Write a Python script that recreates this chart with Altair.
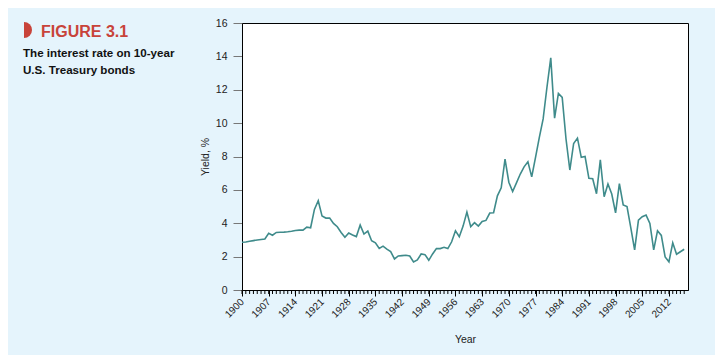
import math
import altair as alt
import pandas as pd

# ---- data ----
years = list(range(1900, 2017))
yields = [
    2.86, 2.88, 2.92, 2.96, 3.00, 3.03, 3.06, 3.40, 3.28, 3.45,   # 1900-1909
    3.46, 3.47, 3.49, 3.52, 3.57, 3.59, 3.59, 3.77, 3.73, 4.83,   # 1910-1919
    5.35, 4.43, 4.31, 4.31, 3.99, 3.79, 3.45, 3.16, 3.42, 3.30,   # 1920-1929
    3.20, 3.89, 3.35, 3.53, 2.95, 2.83, 2.49, 2.63, 2.45, 2.30,   # 1930-1939
    1.86, 2.04, 2.06, 2.08, 2.04, 1.68, 1.80, 2.16, 2.12, 1.78,   # 1940-1949
    2.16, 2.48, 2.48, 2.56, 2.48, 2.89, 3.55, 3.19, 3.83, 4.67,   # 1950-1959
    3.80, 4.04, 3.83, 4.11, 4.17, 4.61, 4.63, 5.64, 6.12, 7.84,   # 1960-1969
    6.46, 5.90, 6.42, 6.95, 7.38, 7.68, 6.78, 7.95, 9.15, 10.25,  # 1970-1979
    12.15, 13.91, 10.30, 11.78, 11.54, 9.05, 7.19, 8.78, 9.10, 7.95,  # 1980-1989
    8.00, 6.69, 6.67, 5.77, 7.80, 5.59, 6.35, 5.75, 4.62, 6.38,   # 1990-1999
    5.10, 5.00, 3.72, 2.40, 4.19, 4.39, 4.49, 3.99, 2.40, 3.55,   # 2000-2009
    3.27, 1.98, 1.69, 2.83, 2.14, 2.29, 2.44,                     # 2010-2016
]
major_ticks = list(range(1900, 2013, 7))
minor_ticks = list(range(1900, 2017))
y_ticks = list(range(0, 17, 2))

title_text = "FIGURE 3.1"
subtitle_lines = ["The interest rate on 10-year", "U.S. Treasury bonds"]

W, H = 446, 267
BG = "#E5F4FC"
LINE = "#3F8B8B"
RED = "#C8433A"
FONT = "Liberation Sans"

df = pd.DataFrame({"Year": years, "Yield": yields})

x_scale = alt.Scale(domain=[1900, 2017], nice=False, zero=False)
y_scale = alt.Scale(domain=[0, 16], nice=False)

x_axis = alt.Axis(
    values=major_ticks, format="d", labelAngle=-45, labelAlign="right",
    labelBaseline="middle", tickSize=6, tickColor="black", domainColor="black",
    labelFontSize=10, labelColor="#222222", labelPadding=4, grid=False,
    labelOverlap=False, labelFlush=False, labelBound=False,
    title="Year", titleFontSize=10.5, titleFontWeight="normal", titleColor="#222222",
    titleY=52, titleBaseline="alphabetic",
)
y_axis = alt.Axis(
    values=y_ticks, tickSize=9, tickColor="#777777", domainColor="black",
    labelFontSize=10.5, labelColor="#222222", labelPadding=6, grid=False,
    labelOverlap=False, labelFlush=False,
    title="Yield, %", titleFontSize=10.5, titleFontWeight="normal",
    titleColor="#222222", titleX=-34, titleBaseline="alphabetic",
)

line = alt.Chart(df).mark_line(color=LINE, strokeWidth=1.6).encode(
    x=alt.X("Year:Q", scale=x_scale, axis=x_axis),
    y=alt.Y("Yield:Q", scale=y_scale, axis=y_axis),
)

minor = alt.Chart(pd.DataFrame({"Year": minor_ticks})).mark_rule(
    color="black", strokeWidth=1
).encode(
    x=alt.X("Year:Q", scale=x_scale, axis=x_axis),
    y=alt.value(H),
    y2=alt.value(H + 4),
)


def txt(s, x, y, **kw):
    return alt.Chart(pd.DataFrame({"t": [s]})).mark_text(
        align="left", baseline="alphabetic", font=FONT, **kw
    ).encode(x=alt.value(x), y=alt.value(y), text="t:N")


title = txt(title_text, -201, 14, fontSize=16, fontWeight="bold", color=RED)
sub1 = txt(subtitle_lines[0], -219, 34, fontSize=11.6, fontWeight="bold", color="#111111")
sub2 = txt(subtitle_lines[1], -219, 51, fontSize=11.6, fontWeight="bold", color="#111111")

icon = alt.Chart(pd.DataFrame({"t": [1]})).mark_arc(
    color=RED, radius=8, theta=0, theta2=math.pi
).encode(x=alt.value(-218), y=alt.value(7))

chart = alt.layer(line, minor, icon, title, sub1, sub2).properties(
    width=W, height=H,
    background=BG,
    padding={"left": 234, "top": 15, "right": 27, "bottom": 65},
    autosize=alt.AutoSizeParams(type="none"),
).configure(font=FONT).configure_view(
    stroke="black", strokeWidth=1, fill="white"
)

chart.save("out.html", embed_options={"renderer": "svg", "actions": False})
